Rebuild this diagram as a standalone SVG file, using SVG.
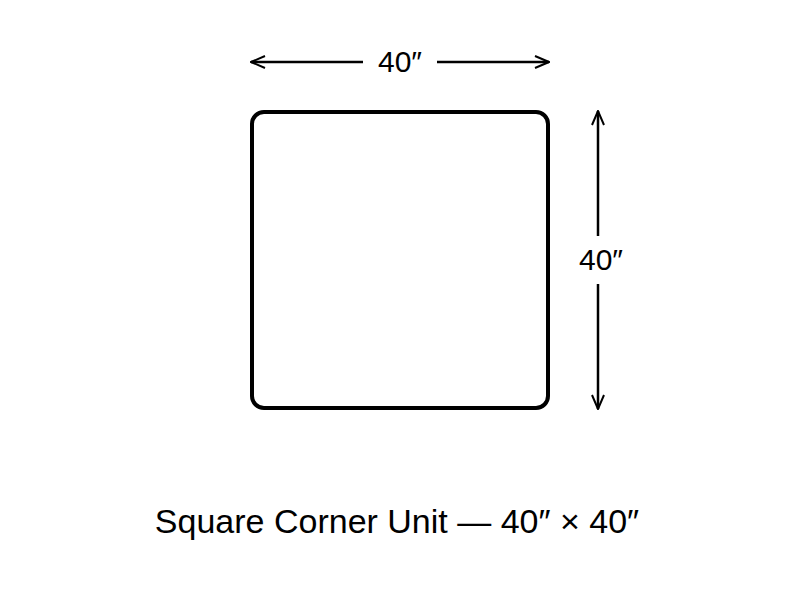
<svg xmlns="http://www.w3.org/2000/svg" width="800" height="600" viewBox="0 0 800 600">
<style>
.dim{stroke:#000;stroke-width:2.5;fill:none}
.lbl{font-family:"Liberation Sans",Arial,sans-serif;font-size:30px;fill:#000;text-anchor:middle}
.title{font-family:"Liberation Sans",Arial,sans-serif;font-size:34px;fill:#000;text-anchor:middle}
</style>
<defs>
<marker id="ah" viewBox="0 0 16 14" refX="15" refY="7" markerWidth="16" markerHeight="14" markerUnits="userSpaceOnUse" orient="auto-start-reverse">
<path d="M1,1 L15,7 L1,13" fill="none" stroke="#000" stroke-width="2"/>
</marker>
</defs>
<rect width="800" height="600" fill="#fff"/>
<g id="unit">
<rect x="252" y="112" width="296" height="296" rx="12" ry="12" fill="#fff" stroke="#000" stroke-width="4"/>
</g>
<g id="connectors">
<line class="dim" x1="251" y1="62" x2="363" y2="62" marker-start="url(#ah)"/>
<line class="dim" x1="437" y1="62" x2="549" y2="62" marker-end="url(#ah)"/>
<line class="dim" x1="598" y1="111" x2="598" y2="236" marker-start="url(#ah)"/>
<line class="dim" x1="598" y1="284" x2="598" y2="409" marker-end="url(#ah)"/>
</g>
<g id="labels">
<text class="lbl" x="400" y="72">40″</text>
<text class="lbl" x="601" y="270">40″</text>
<text class="title" x="397" y="533">Square Corner Unit — 40″ × 40″</text>
</g>
</svg>
